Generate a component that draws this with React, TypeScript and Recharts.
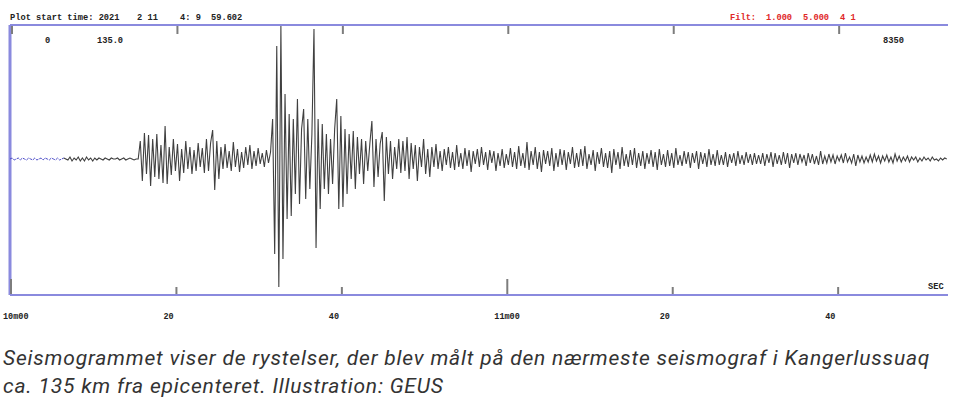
import React from 'react';
import { LineChart, Line, XAxis, YAxis, ReferenceLine } from 'recharts';

// seconds per plotted sample, time axis in seconds from 10m00
const sampleStep = 0.25;
const timeDomain: [number, number] = [0, 113.4];
const ampDomain: [number, number] = [-136, 134];
const tickSeconds = [0, 20, 40, 60, 80, 100];
const tickLabels = ['10m00', '20', '40', '11m00', '20', '40'];

// amplitudes (signed, screen-pixel-like units)
const preEventNoise = [0, 1, -1, 0, 1, -1, 1, 0, -1, 1, 0, -1, 1, -1, 0, 1, -1, 1, 0, -1, 1, 0, -1, 1, -1, 0, 1];
const quietTrace = [0, -1, 2, -2, 1, -1, 2, -2, 1, -2, 2, -1, 1, -2, 1, -1, 1, 0, -1, 1, 0, -1, 1, 0, 0, 1, -1, 0, 1, -1, 0, 1, 0, -1, 0];
const pWave = [
  0, 18, -22, 26, -15, 24, -27, 20, -18, 25, -20, 14, -24, 33, -25, 12, -16, 20, -12, 15,
  -22, 10, -14, 18, -10, 12, -15, 9, -12, 16, -8, 11, -14, 20, -12, 16, 29, -31, 18, -20,
  12, -10, 15, -9, 8, -12, 17, -8, 10, -13, 7, -9, 12, -6, 14, -10, 8, -7, 11, -5,
  6, -8, 9, -4, 7,
];
const sWave = [
  40, -95, 113, -128, 133, -100, 65, -60, 45, -57, 40, -35, 60, -45, 30, 50, -40, 40, -30, 25,
  130, -89, 40, -50, 35, -30, 25, -35, 20, -25, 30, 60, -50, 43, -48, 30,
];
const coda1 = [
  -35, 25, -20, 28, -30, 22, -15, 20, -25, 18, -12, 15, 38, -28, 20, -18, 15, 27, -42, 22,
  -15, 18, -20, 12, -10, 20, -14, 18, -12, 22, -20, 16, -10, 14, -22, 12, -8, 20, -15, 10,
  -18, 12, -8, 15, -10, 8,
];
const coda2 = [
  -12, 10, -6, 12, -9, 7, -11, 14, -8, 6, -10, 11, -7, 9, -13, 8, -5, 10, -8, 12,
  -6, 7, -11, 9, -4, 8, -12, 6, -7, 10, -9, 5, -6, 11, -8, 7, -10, 13, -7, 6,
  -9, 17, -11, 8, -6, 12, -10, 7, -13, 9, -5, 8, -7, 11, -12, 6, -8, 10, -6, 9,
  -11, 7, -5, 12, -9, 6, -8, 10, -7, 13, -10, 5, -6, 9, -12, 7, -5, 11, -8, 6,
  -9, 8, -14, 10, -6, 7, -10, 12, -7, 5, -8, 9, -6, 11, -9, 6, -7,
];
const coda3 = [
  8, -10, 6, -5, 9, -8, 7, -11, 10, -6, 5, -8, 9, -7, 6, -9, 11, -6, 4, -7,
  8, -5, 7, -9, 6, -4, 8, -10, 7, -5, 6, -8, 10, -6, 5, -7, 9, -6, 4, -6,
  7, -8, 5, -4, 6, -7, 8, -5, 4, -6, 7, -4, 5, -6, 6, -5, 4, -5,
];
const coda4 = [
  6, -7, 5, -4, 7, -8, 6, -5, 4, -6, 7, -5, 6, -9, 5, -4, 6, -6, 5, -3,
  4, -7, 6, -4, 5, -5, 3, -6, 8, -5, 3, -4, 5, -3, 4, -5, 3, -2, 4, -4,
  6, -3, 2, -4, 5, -7, 4, -3, 3, -4, 2, -3, 4, -3, 5, -2, 3, -4, 3, -2,
  4, -3, 2, -4, 5, -2, 3, -3, 2, -2, 3, -3, 2, -1, 2, -3, 1, -2, 2, -1,
  1, -2, 2, -1, 0, -2, 1, -1, 1, 0,
];

const allValues = [...preEventNoise, ...quietTrace, ...pWave, ...sWave, ...coda1, ...coda2, ...coda3, ...coda4];
const preLen = preEventNoise.length;
const chartData = allValues.map((v, i) => ({
  t: i * sampleStep,
  pre: i < preLen ? v : null,
  trace: i >= preLen - 1 ? v : null,
}));

const frameColor = '#8a8ade';
const tickColor = '#7d7d7d';
const monoFont = '"Liberation Mono", "DejaVu Sans Mono", monospace';

const BottomTick = (props: any) => {
  const { x, y, payload } = props;
  const idx = tickSeconds.indexOf(payload.value);
  const major = payload.value === 0 || payload.value === 60;
  const len = major ? 16 : 8;
  const dx = payload.value === 0 ? -7 : -12;
  return (
    <g>
      <line x1={x + 1} y1={y - 1} x2={x + 1} y2={y - len} stroke={tickColor} strokeWidth={2} />
      <text x={x + dx} y={y + 24} fontFamily={monoFont} fontWeight="bold" fontSize={8.5} fill="#222" textAnchor="start">
        {tickLabels[idx]}
      </text>
    </g>
  );
};

const TopTick = (props: any) => {
  const { x, y } = props;
  return <line x1={x + 2} y1={y + 1} x2={x + 2} y2={y + 9} stroke={tickColor} strokeWidth={2} />;
};

const Txt = ({ x, y, color = '#222', children }: any) => (
  <div
    style={{
      position: 'absolute',
      left: x,
      top: y - 5,
      lineHeight: '10px',
      fontFamily: monoFont,
      fontWeight: 'bold',
      fontSize: 8.7,
      color,
      whiteSpace: 'pre',
    }}
  >
    {children}
  </div>
);

export default function App() {
  return (
    <div style={{ position: 'absolute', left: 0, top: 0, width: 960, height: 404, background: '#fff', overflow: 'hidden' }}>
      <LineChart width={960} height={330} data={chartData} margin={{ top: 24, right: 12, bottom: 34, left: 10 }}>
        <XAxis
          dataKey="t"
          type="number"
          domain={timeDomain}
          ticks={tickSeconds}
          interval={0}
          height={1}
          axisLine={{ stroke: frameColor, strokeWidth: 2 }}
          tickLine={false}
          tickSize={0}
          tickMargin={0}
          tick={<BottomTick />}
          allowDataOverflow
        />
        <XAxis
          xAxisId="top"
          orientation="top"
          dataKey="t"
          type="number"
          domain={timeDomain}
          ticks={tickSeconds}
          interval={0}
          height={1}
          axisLine={{ stroke: frameColor, strokeWidth: 2 }}
          tickLine={false}
          tickSize={0}
          tickMargin={0}
          tick={<TopTick />}
          allowDataOverflow
        />
        <YAxis type="number" domain={ampDomain} hide width={0} allowDataOverflow />
        <ReferenceLine x={0} stroke={frameColor} strokeWidth={3} />
        <Line
          dataKey="pre"
          stroke="#4a4ac8"
          strokeWidth={1}
          strokeDasharray="3 1"
          dot={false}
          isAnimationActive={false}
          connectNulls={false}
        />
        <Line
          dataKey="trace"
          stroke="#404040"
          strokeWidth={1.1}
          dot={false}
          isAnimationActive={false}
          connectNulls={false}
        />
      </LineChart>

      <Txt x={10} y={18}>Plot start time: 2021</Txt>
      <Txt x={137} y={18}>2 11</Txt>
      <Txt x={180} y={18}>4: 9</Txt>
      <Txt x={211} y={18}>59.602</Txt>
      <Txt x={730} y={18} color="#e02828">Filt:</Txt>
      <Txt x={766} y={18} color="#e02828">1.000</Txt>
      <Txt x={803} y={18} color="#e02828">5.000</Txt>
      <Txt x={840} y={18} color="#e02828">4 1</Txt>
      <Txt x={45} y={41}>0</Txt>
      <Txt x={97} y={41}>135.0</Txt>
      <Txt x={883} y={41}>8350</Txt>
      <Txt x={928} y={287}>SEC</Txt>

      <div
        style={{
          position: 'absolute',
          left: 3,
          top: 344,
          width: 957,
          fontFamily: 'Roboto, "Noto Sans", sans-serif',
          fontStyle: 'italic',
          fontSize: 21,
          letterSpacing: '0.8px',
          lineHeight: '28px',
          color: '#333',
        }}
      >
        <div style={{ whiteSpace: 'nowrap' }}>
          Seismogrammet viser de rystelser, der blev målt på den nærmeste seismograf i Kangerlussuaq
        </div>
        <div style={{ whiteSpace: 'nowrap' }}>ca. 135 km fra epicenteret. Illustration: GEUS</div>
      </div>
    </div>
  );
}
